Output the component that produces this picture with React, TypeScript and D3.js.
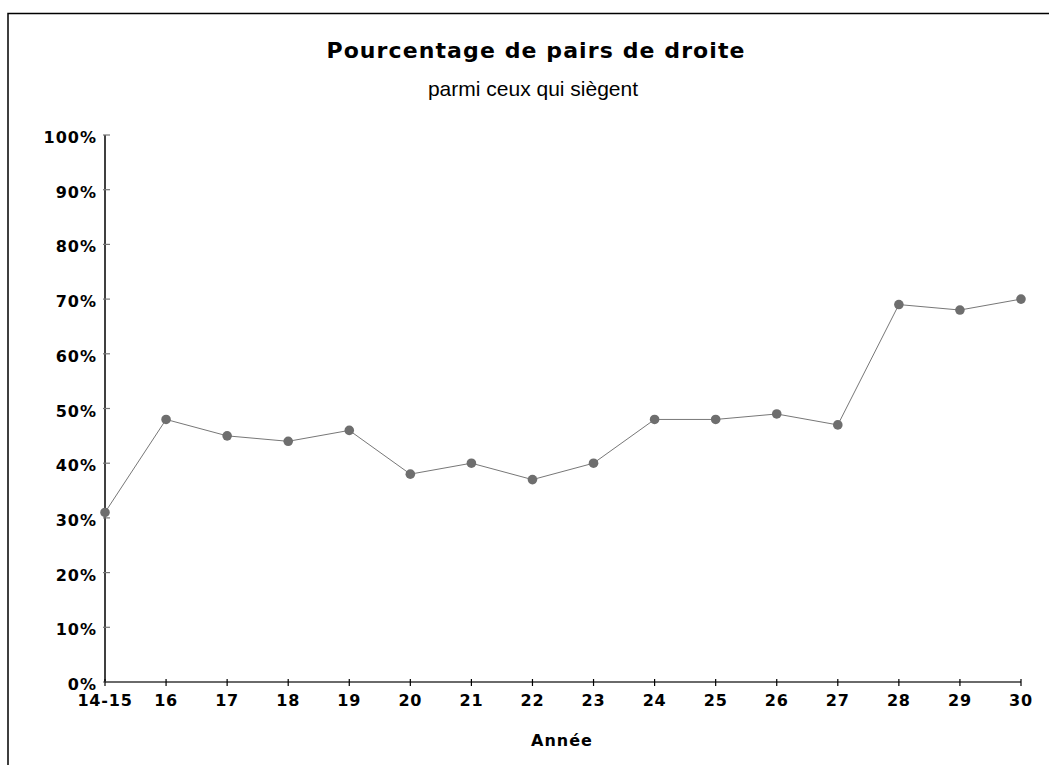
import React from "react";
import * as d3 from "d3";

const years = ["14-15", "16", "17", "18", "19", "20", "21", "22", "23", "24", "25", "26", "27", "28", "29", "30"];
const values = [31, 48, 45, 44, 46, 38, 40, 37, 40, 48, 48, 49, 47, 69, 68, 70];
const yTicks = [0, 10, 20, 30, 40, 50, 60, 70, 80, 90, 100];

const width = 1049;
const height = 765;
const left = 105;
const right = 1021;
const top = 135;
const bottom = 682;

const labelFont = "'DejaVu Sans', Verdana, sans-serif";

export default function App() {
  const x = d3.scalePoint<string>().domain(years).range([left, right]);
  const y = d3.scaleLinear().domain([0, 100]).range([bottom, top]);

  const line = d3
    .line<number>()
    .x((_, i) => x(years[i]) as number)
    .y((d) => y(d));

  return (
    <svg
      width={width}
      height={height}
      style={{ position: "absolute", left: 0, top: 0, background: "#fff" }}
    >
      {/* outer frame, cut off at right and bottom */}
      <rect x={8} y={13.5} width={1100} height={800} fill="none" stroke="#000" strokeWidth={1.5} />

      <text
        x={536}
        y={58}
        textAnchor="middle"
        fontFamily={labelFont}
        fontWeight="bold"
        fontSize={22}
        letterSpacing={1.1}
        fill="#000"
      >
        Pourcentage de pairs de droite
      </text>
      <text
        x={533}
        y={96}
        textAnchor="middle"
        fontFamily="'Liberation Sans', Arial, sans-serif"
        fontSize={21}
        fill="#000"
      >
        parmi ceux qui siègent
      </text>

      {/* y axis */}
      <line x1={left} x2={left} y1={y(100)} y2={y(0)} stroke="#000" strokeWidth={1.5} />
      {yTicks.map((t) => (
        <g key={t}>
          <line x1={left - 2} x2={left + 5} y1={y(t)} y2={y(t)} stroke="#777" strokeWidth={1.2} />
          <text
            x={97}
            y={y(t) + 8}
            textAnchor="end"
            fontFamily={labelFont}
            fontWeight="bold"
            fontSize={16}
            letterSpacing={1}
            fill="#000"
          >
            {t}%
          </text>
        </g>
      ))}

      {/* x axis */}
      <line x1={left} x2={right} y1={y(0)} y2={y(0)} stroke="#6a6a6a" strokeWidth={2} />
      {years.map((yr) => (
        <g key={yr}>
          <line x1={x(yr)} x2={x(yr)} y1={y(0) - 3} y2={y(0) + 4} stroke="#000" strokeWidth={1.2} />
          <text
            x={x(yr)}
            y={706}
            textAnchor="middle"
            fontFamily={labelFont}
            fontWeight="bold"
            fontSize={16}
            letterSpacing={0.8}
            fill="#000"
          >
            {yr}
          </text>
        </g>
      ))}
      <text
        x={562}
        y={746}
        textAnchor="middle"
        fontFamily={labelFont}
        fontWeight="bold"
        fontSize={16}
        letterSpacing={1}
        fill="#000"
      >
        Année
      </text>

      {/* series */}
      <path d={line(values) || ""} fill="none" stroke="#777" strokeWidth={1} />
      {values.map((v, i) => (
        <circle key={years[i]} cx={x(years[i])} cy={y(v)} r={4.8} fill="#6e6e6e" />
      ))}
    </svg>
  );
}
